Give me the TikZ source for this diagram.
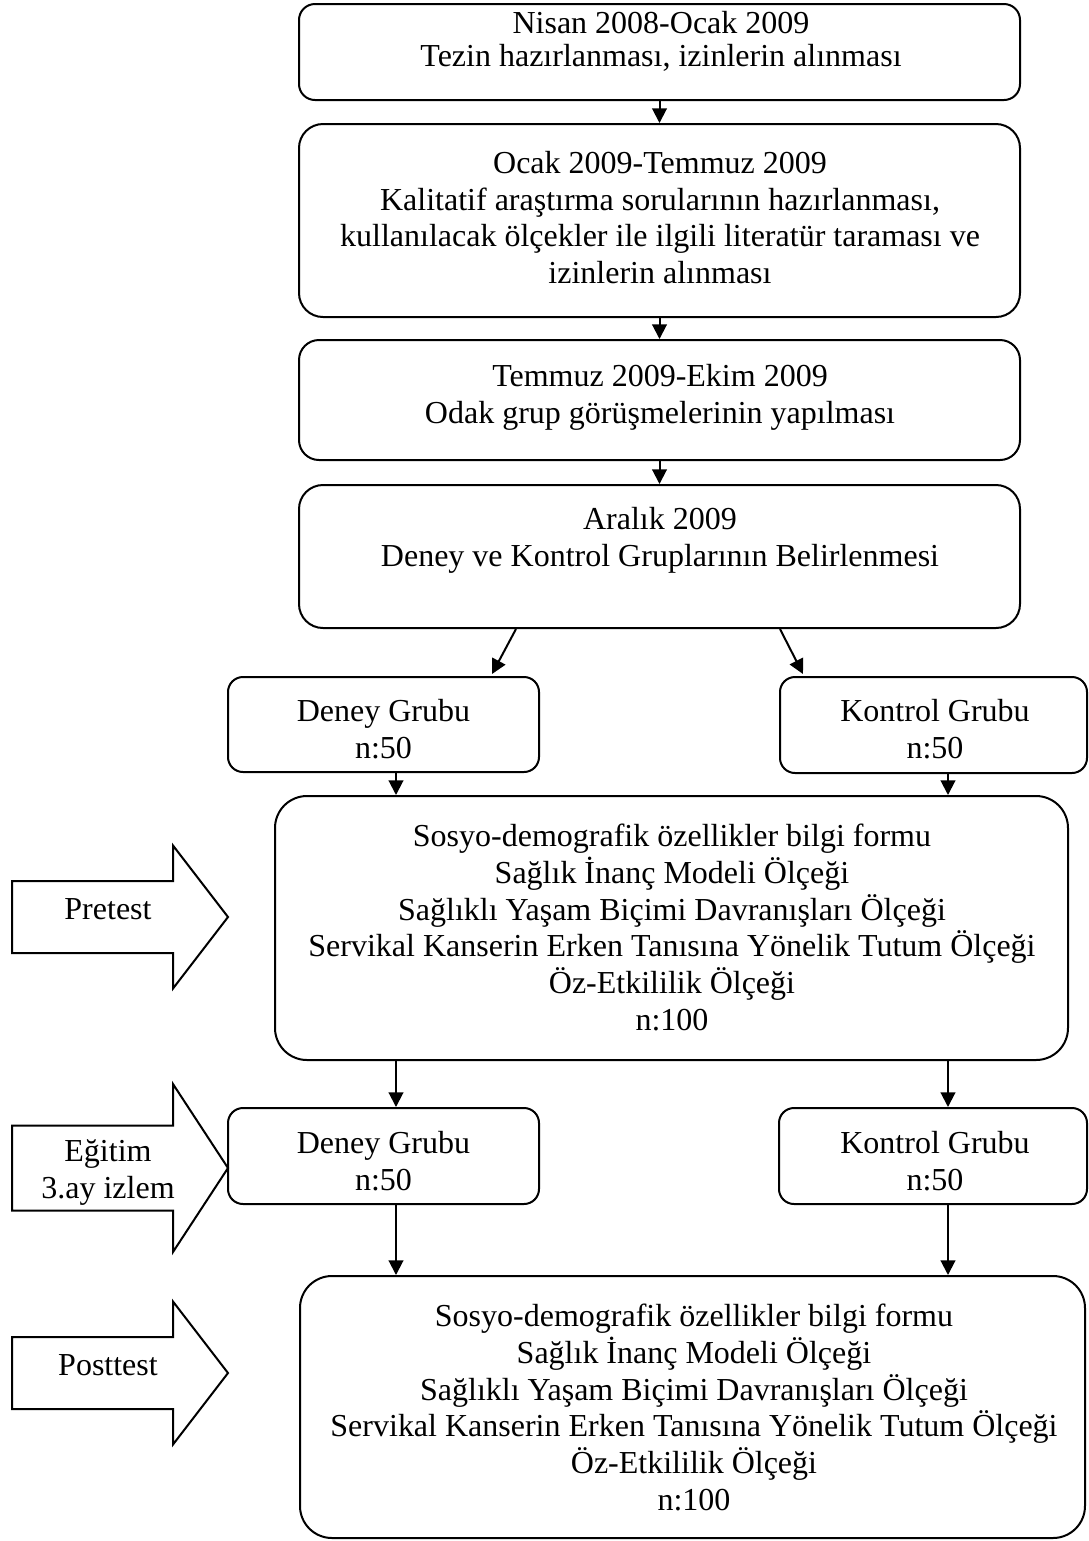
\documentclass[tikz,border=0pt]{standalone}
\usepackage{fontspec}
\setmainfont{Liberation Serif}
\usetikzlibrary{arrows.meta, calc}
\newlength{\pxu}
\setlength{\pxu}{0.375pt}
\newcommand{\tstrut}{\rule{0pt}{9pt}}
\newcommand{\olcekler}{Sosyo-demografik özellikler bilgi formu\\Sağlık İnanç Modeli Ölçeği\\Sağlıklı Yaşam Biçimi Davranışları Ölçeği\\Servikal Kanserin Erken Tanısına Yönelik Tutum Ölçeği\\Öz-Etkililik Ölçeği\\n:100}

\begin{document}
\begin{tikzpicture}[
  x=0.375pt, y=-0.375pt,
  font=\fontsize{12pt}{13.8pt}\selectfont,
  line width=0.75pt,
  box/.style={draw, rounded corners=#1, inner sep=0pt},
  box/.default=20\pxu,
  txt/.style={align=center, inner sep=0pt, anchor=north, execute at begin node=\tstrut},
  arr/.style={-{Triangle[length=5.5pt, width=5.5pt]}},
  fat/.style={draw, line join=miter}
]
  \useasboundingbox (0,0) rectangle (1088,1541);

  % time line boxes
  \node[box=16\pxu, minimum width=721\pxu, minimum height=96\pxu] (plan) at (659.5,52) {};
  \node[box=24\pxu, minimum width=721\pxu, minimum height=193\pxu] (lit) at (659.5,220.5) {};
  \node[box=20\pxu, minimum width=721\pxu, minimum height=120\pxu] (odak) at (659.5,400) {};
  \node[box=24\pxu, minimum width=721\pxu, minimum height=143\pxu] (grup) at (659.5,556.5) {};

  \node[txt, font=\fontsize{12pt}{12.4pt}\selectfont] (plan-t) at (661,10) {Nisan 2008-Ocak 2009\\Tezin hazırlanması, izinlerin alınması};
  \node[txt] (lit-t) at (660,150) {Ocak 2009-Temmuz 2009\\Kalitatif araştırma sorularının hazırlanması,\\kullanılacak ölçekler ile ilgili literatür taraması ve\\izinlerin alınması};
  \node[txt] (odak-t) at (660,363) {Temmuz 2009-Ekim 2009\\Odak grup görüşmelerinin yapılması};
  \node[txt] (grup-t) at (660,506) {Aralık 2009\\Deney ve Kontrol Gruplarının Belirlenmesi};

  % groups
  \node[box=15\pxu, minimum width=311\pxu, minimum height=95\pxu] (deney1) at (383.5,724.5) {};
  \node[box=15\pxu, minimum width=307\pxu, minimum height=96\pxu] (kontrol1) at (933.5,725) {};
  \node[txt] (deney1-t) at (383.5,698) {Deney Grubu\\n:50};
  \node[txt] (kontrol1-t) at (935,698) {Kontrol Grubu\\n:50};

  \node[box=32\pxu, minimum width=793\pxu, minimum height=264\pxu] (pre) at (671.5,928) {};
  \node[txt] (pre-t) at (672,823) {\olcekler};

  \node[box=15\pxu, minimum width=311\pxu, minimum height=96\pxu] (deney2) at (383.5,1156) {};
  \node[box=15\pxu, minimum width=308\pxu, minimum height=96\pxu] (kontrol2) at (933,1156) {};
  \node[txt] (deney2-t) at (383.5,1130) {Deney Grubu\\n:50};
  \node[txt] (kontrol2-t) at (935,1130) {Kontrol Grubu\\n:50};

  \node[box=32\pxu, minimum width=785\pxu, minimum height=262\pxu] (post) at (692.5,1407) {};
  \node[txt] (post-t) at (694,1303) {\olcekler};

  % connectors
  \draw[arr] (plan.south) -- (lit.north);
  \draw[arr] (lit.south) -- (odak.north);
  \draw[arr] (odak.south) -- (grup.north);
  \draw[arr] ($(grup.south)+(-143.5,0)$) -- ($(deney1.north)+(108.5,-2)$);
  \draw[arr] ($(grup.south)+(120.5,0)$) -- ($(kontrol1.north)+(-130.5,-2)$);

  \coordinate (cl) at ($(deney1.south)+(12.5,0)$);
  \coordinate (cr) at ($(kontrol1.south)+(14.5,0)$);
  \draw[arr] (cl) -- (cl |- pre.north);
  \draw[arr] (cr) -- (cr |- pre.north);
  \draw[arr] (cl |- pre.south) -- (cl |- deney2.north);
  \draw[arr] (cr |- pre.south) -- (cr |- kontrol2.north);
  \draw[arr] (cl |- deney2.south) -- (cl |- post.north);
  \draw[arr] (cr |- kontrol2.south) -- (cr |- post.north);

  % block arrows on the left
  \foreach \yc/\sh/\hh in {917/36/71.5, 1168/42.5/84, 1373/36/71.5} {
    \draw[fat] (12,\yc-\sh) -- (173,\yc-\sh) -- (173,\yc-\hh) -- (228,\yc)
      -- (173,\yc+\hh) -- (173,\yc+\sh) -- (12,\yc+\sh) -- cycle;
  }
  \node[txt] (pretest) at (108,894) {Pretest};
  \node[txt] (egitim) at (108,1139) {Eğitim\\3.ay izlem};
  \node[txt] (posttest) at (108,1350) {Posttest};
\end{tikzpicture}
\end{document}
